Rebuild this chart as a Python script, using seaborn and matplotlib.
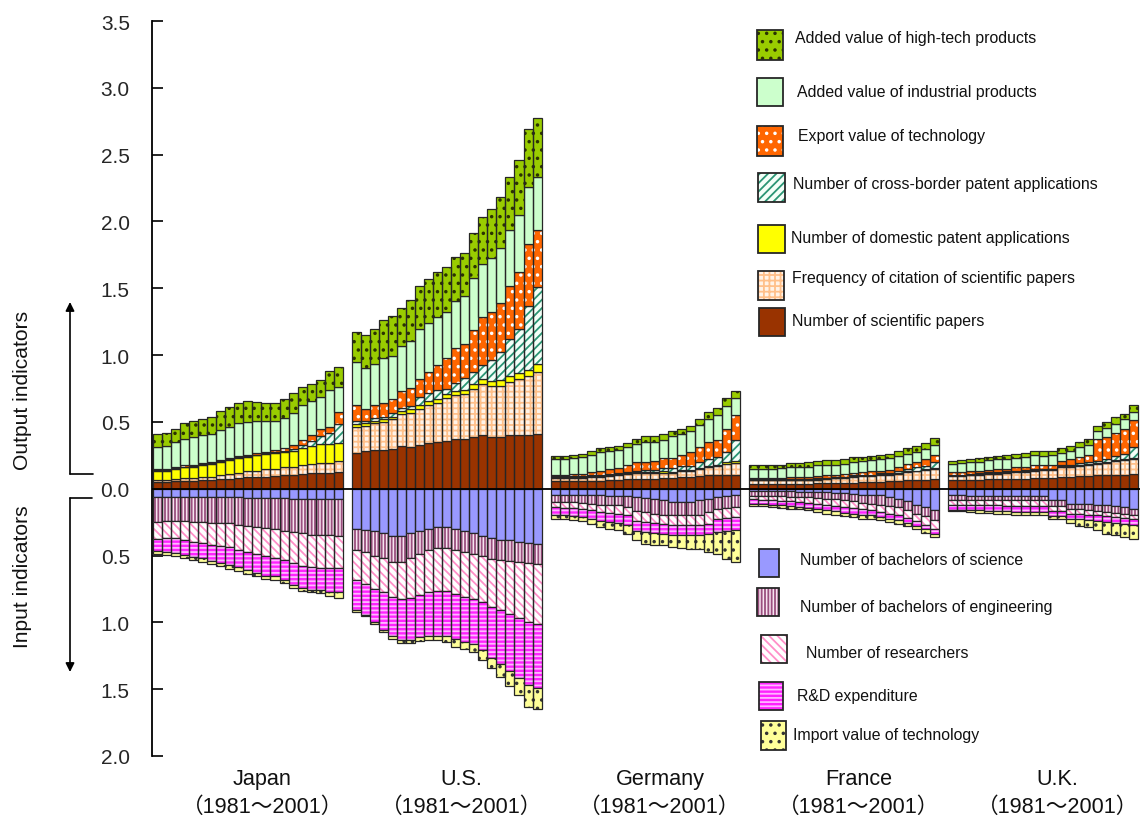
import numpy as np
import pandas as pd
import matplotlib
matplotlib.use("Agg")
import matplotlib.pyplot as plt
import seaborn as sns
from matplotlib import font_manager
from matplotlib.patches import Rectangle
from matplotlib.lines import Line2D

# ==== data (one value per year 1981..2001) ====
countries = ["Japan", "U.S.", "Germany", "France", "U.K."]
period = "（1981～2001）"
n_years = 21

# ---- output indicators (stacked upward, bottom to top) ----
papers = {
    "Japan":   [.05, .05, .055, .06, .06, .065, .065, .07, .075, .08, .085, .085, .09, .095, .10, .105, .11, .115, .12, .12, .125],
    "U.S.":    [.27, .28, .29, .29, .30, .32, .31, .33, .34, .35, .36, .37, .37, .39, .40, .39, .39, .40, .40, .40, .41],
    "Germany": [.055, .055, .055, .055, .06, .06, .065, .065, .07, .075, .075, .075, .08, .08, .085, .085, .095, .10, .105, .105, .105],
    "France":  [.037, .037, .037, .037, .037, .037, .037, .042, .042, .042, .045, .045, .05, .05, .05, .055, .055, .062, .067, .067, .075],
    "U.K.":    [.062, .062, .062, .067, .07, .07, .075, .075, .075, .08, .08, .08, .087, .087, .092, .092, .10, .10, .105, .105, .11],
}
citation = {
    "Japan":   [.015, .015, .02, .02, .02, .025, .025, .03, .035, .04, .045, .05, .055, .055, .06, .06, .065, .07, .075, .075, .08],
    "U.S.":    [.19, .19, .20, .21, .22, .24, .26, .27, .29, .29, .32, .33, .34, .36, .38, .38, .38, .40, .42, .44, .46],
    "Germany": [.025, .025, .025, .025, .025, .03, .03, .035, .04, .04, .04, .04, .04, .04, .045, .05, .055, .06, .065, .08, .09],
    "France":  [.025, .025, .025, .025, .025, .027, .027, .027, .032, .037, .035, .042, .045, .045, .05, .05, .057, .062, .062, .07, .07],
    "U.K.":    [.032, .032, .037, .037, .042, .042, .045, .05, .05, .052, .057, .057, .075, .075, .077, .082, .087, .095, .10, .107, .11],
}
domestic = {
    "Japan":   [.07, .07, .075, .08, .085, .09, .095, .10, .105, .11, .11, .115, .115, .115, .115, .12, .13, .135, .14, .14, .14],
    "U.S.":    [.025, .02, .02, .02, .02, .02, .025, .03, .03, .035, .03, .03, .03, .035, .04, .035, .04, .045, .045, .05, .065],
    "Germany": [.008, .008, .008, .008, .01, .008, .008, .008, .008, .008, .008, .008, .012, .008, .008, .008, .008, .008, .01, .012, .012],
    "France":  [.005, .005, .005, .005, .005, .005, .005, .005, .005, .005, .005, .007, .005, .005, .007, .007, .007, .007, .007, .007, .01],
    "U.K.":    [.005, .005, .005, .005, .005, .005, .005, .005, .005, .005, .007, .007, .007, .007, .01, .01, .007, .007, .007, .007, .007],
}
cross_border = {
    "Japan":   [.005, .005, .005, .005, .005, .005, .005, .005, .005, .005, .005, .005, .005, .01, .01, .015, .02, .035, .06, .08, .14],
    "U.S.":    [.02, .02, .02, .02, .025, .025, .025, .055, .055, .065, .04, .06, .085, .085, .105, .16, .21, .275, .33, .48, .575],
    "Germany": [.005, .005, .005, .007, .005, .005, .005, .012, .01, .012, .017, .02, .025, .03, .032, .03, .042, .055, .057, .075, .16],
    "France":  [.003, .003, .003, .003, .005, .005, .005, .005, .005, .005, .005, .005, .005, .005, .007, .007, .017, .017, .025, .025, .045],
    "U.K.":    [.005, .005, .005, .005, .005, .005, .005, .005, .007, .007, .007, .007, .01, .01, .01, .015, .017, .022, .032, .042, .085],
}
export_tech = {
    "Japan":   [.01, .01, .01, .01, .01, .01, .01, .01, .01, .01, .01, .01, .01, .015, .02, .03, .04, .05, .05, .05, .09],
    "U.S.":    [.125, .09, .10, .10, .105, .125, .135, .135, .155, .185, .225, .26, .255, .32, .36, .36, .37, .395, .425, .46, .425],
    "Germany": [.012, .012, .015, .015, .025, .032, .037, .037, .05, .062, .062, .067, .07, .075, .085, .10, .112, .125, .125, .175, .187],
    "France":  [.01, .01, .01, .012, .015, .012, .017, .015, .02, .015, .022, .02, .02, .025, .022, .022, .025, .037, .037, .055, .055],
    "U.K.":    [.02, .02, .02, .022, .02, .022, .02, .027, .025, .03, .027, .03, .032, .04, .047, .05, .162, .162, .175, .187, .20],
}
industrial = {
    "Japan":   [.16, .17, .185, .195, .21, .205, .21, .225, .23, .245, .245, .245, .235, .22, .225, .24, .265, .255, .245, .275, .185],
    "U.S.":    [.32, .30, .30, .335, .325, .335, .35, .375, .37, .36, .35, .355, .365, .385, .395, .40, .41, .42, .43, .43, .40],
    "Germany": [.12, .12, .122, .125, .125, .137, .137, .132, .132, .137, .15, .142, .137, .162, .157, .162, .162, .175, .187, .175, .125],
    "France":  [.065, .065, .065, .072, .075, .08, .075, .08, .077, .077, .075, .08, .08, .082, .087, .087, .087, .075, .08, .07, .07],
    "U.K.":    [.062, .07, .07, .067, .07, .075, .07, .067, .075, .075, .07, .072, .057, .067, .075, .075, .062, .067, .067, .075, .062],
}
hightech = {
    "Japan":   [.10, .10, .10, .12, .12, .12, .13, .14, .15, .15, .16, .14, .13, .13, .14, .15, .13, .12, .12, .14, .15],
    "U.S.":    [.225, .25, .265, .29, .295, .29, .31, .32, .33, .335, .335, .33, .32, .335, .35, .365, .38, .40, .41, .435, .44],
    "Germany": [.02, .02, .025, .025, .03, .03, .03, .03, .035, .035, .04, .045, .045, .04, .035, .035, .05, .05, .055, .055, .055],
    "France":  [.03, .03, .03, .027, .03, .027, .032, .032, .037, .037, .037, .037, .032, .03, .032, .032, .037, .045, .045, .05, .055],
    "U.K.":    [.025, .022, .025, .025, .025, .025, .03, .032, .032, .032, .037, .032, .035, .032, .042, .045, .037, .045, .05, .037, .05],
}

# ---- input indicators (stacked downward, top to bottom) ----
bach_science = {
    "Japan":   [.065, .065, .065, .065, .065, .065, .065, .065, .065, .065, .07, .07, .07, .07, .07, .075, .075, .075, .075, .075, .075],
    "U.S.":    [.30, .31, .32, .33, .35, .355, .335, .315, .30, .285, .285, .305, .32, .33, .35, .37, .38, .385, .40, .405, .41],
    "Germany": [.05, .05, .05, .05, .05, .05, .055, .055, .055, .062, .07, .075, .087, .10, .10, .10, .087, .075, .062, .055, .05],
    "France":  [.02, .02, .02, .02, .02, .022, .022, .025, .025, .03, .03, .037, .045, .045, .05, .062, .075, .095, .12, .137, .162],
    "U.K.":    [.05, .05, .055, .055, .055, .055, .055, .055, .055, .055, .055, .087, .087, .112, .112, .112, .12, .125, .13, .137, .15],
}
bach_engineering = {
    "Japan":   [.185, .18, .175, .18, .185, .185, .19, .19, .195, .205, .21, .215, .225, .235, .25, .25, .26, .27, .27, .27, .275],
    "U.S.":    [.155, .16, .18, .19, .195, .195, .185, .175, .16, .16, .155, .155, .155, .16, .155, .155, .15, .155, .15, .15, .15],
    "Germany": [.05, .05, .05, .055, .062, .07, .07, .07, .082, .107, .105, .112, .107, .10, .10, .10, .107, .10, .087, .09, .087],
    "France":  [.035, .035, .037, .037, .04, .04, .042, .045, .05, .05, .057, .057, .06, .067, .07, .067, .062, .067, .067, .067, .075],
    "U.K.":    [.032, .032, .032, .032, .032, .032, .032, .032, .032, .032, .032, .042, .042, .042, .042, .05, .05, .05, .05, .05, .045],
}
researchers = {
    "Japan":   [.125, .125, .125, .135, .145, .155, .165, .17, .175, .185, .195, .205, .205, .215, .215, .23, .24, .24, .245, .25, .245],
    "U.S.":    [.23, .245, .25, .255, .265, .275, .295, .305, .315, .32, .325, .33, .335, .335, .345, .36, .38, .40, .42, .44, .455],
    "Germany": [.037, .042, .045, .045, .05, .055, .057, .062, .057, .075, .075, .07, .067, .07, .075, .075, .075, .087, .075, .075, .075],
    "France":  [.025, .027, .03, .032, .035, .037, .04, .042, .045, .05, .05, .05, .05, .05, .055, .057, .062, .057, .057, .065, .062],
    "U.K.":    [.037, .037, .037, .037, .037, .037, .042, .042, .042, .045, .045, .037, .04, .032, .032, .032, .03, .03, .032, .032, .035],
}
rd_expenditure = {
    "Japan":   [.09, .105, .115, .115, .115, .115, .12, .13, .135, .13, .13, .14, .15, .135, .145, .165, .17, .17, .17, .175, .18],
    "U.S.":    [.225, .23, .25, .28, .295, .31, .315, .315, .325, .335, .34, .335, .335, .34, .355, .38, .405, .425, .45, .47, .475],
    "Germany": [.057, .057, .06, .062, .062, .07, .067, .07, .075, .075, .075, .075, .075, .075, .07, .07, .075, .075, .10, .10, .10],
    "France":  [.032, .032, .032, .035, .035, .037, .04, .037, .042, .04, .042, .042, .04, .037, .037, .037, .037, .035, .035, .035, .037],
    "U.K.":    [.037, .037, .037, .037, .04, .042, .04, .045, .045, .042, .042, .037, .035, .037, .042, .042, .045, .045, .042, .042, .04],
}
import_tech = {
    "Japan":   [.025, .02, .02, .025, .02, .025, .025, .025, .03, .03, .035, .025, .025, .025, .025, .02, .02, .02, .02, .03, .04],
    "U.S.":    [.01, .01, .015, .015, .02, .02, .025, .03, .035, .035, .045, .06, .055, .06, .075, .08, .095, .11, .125, .165, .16],
    "Germany": [.03, .03, .032, .032, .037, .042, .055, .055, .067, .067, .087, .092, .087, .092, .10, .105, .11, .137, .162, .205, .237],
    "France":  [.017, .017, .017, .02, .02, .017, .017, .025, .025, .03, .025, .025, .03, .03, .025, .025, .025, .025, .02, .025, .025],
    "U.K.":    [.012, .012, .012, .017, .017, .02, .017, .02, .025, .025, .025, .02, .025, .03, .05, .05, .067, .087, .095, .10, .105],
}

# ==== styles: (data, label, face colour, hatch, hatch colour) ====
output_layers = [
    (papers, "Number of scientific papers", "#993300", None, "#993300"),
    (citation, "Frequency of citation of scientific papers", "#FFF3E8", "+++", "#FFC08A"),
    (domestic, "Number of domestic patent applications", "#FFFF00", None, "#FFFF00"),
    (cross_border, "Number of cross-border patent applications", "#F4FFF8", "////", "#2A9574"),
    (export_tech, "Export value of technology", "#FF6600", "..", "#FFFFFF"),
    (industrial, "Added value of industrial products", "#CCFFCC", None, "#CCFFCC"),
    (hightech, "Added value of high-tech products", "#99CC00", "..", "#2B3300"),
]
input_layers = [
    (bach_science, "Number of bachelors of science", "#9999FF", None, "#9999FF"),
    (bach_engineering, "Number of bachelors of engineering", "#F7E4F0", "|||||", "#9B4F7F"),
    (researchers, "Number of researchers", "#FFFFFF", "\\\\\\\\", "#FF8FC8"),
    (rd_expenditure, "R&D expenditure", "#FF22FF", "----", "#FFB8FF"),
    (import_tech, "Import value of technology", "#FFFF99", "..", "#333333"),
]

# ==== fonts / theme ====
sns.set_style("white")
installed = {f.name for f in font_manager.fontManager.ttflist}
if "Liberation Sans Narrow" in installed:
    base, k, tick_size = "Liberation Sans Narrow", 1.0, 16
else:
    base, k, tick_size = "Liberation Sans", 0.82, 15
plt.rcParams["font.family"] = [base, "Noto Sans CJK JP", "DejaVu Sans"]
plt.rcParams["hatch.linewidth"] = 1.3
plt.rcParams["text.color"] = "#111111"

W, H = 1146, 829
fig = plt.figure(figsize=(W / 100, H / 100), dpi=100)
ax = fig.add_axes([152 / W, 1 - 757 / H, (1140 - 152) / W, (757 - 22) / H])

gap = 22
xpos = np.concatenate([np.arange(n_years) + i * gap for i in range(len(countries))])
edge_col = "#262626"


def draw_stack(layers, sign):
    bottom = np.zeros(len(xpos))
    for vals, label, face, hatch, hcol in layers:
        h = sign * np.concatenate([vals[c] for c in countries])
        df = pd.DataFrame({"x": xpos, "h": h})
        # fill + hatch (hatch takes the edge colour), then the dark outline
        sns.barplot(data=df, x="x", y="h", native_scale=True, width=1.0,
                    color=face, saturation=1, errorbar=None, ax=ax,
                    bottom=bottom, hatch=hatch, edgecolor=hcol, linewidth=0)
        sns.barplot(data=df, x="x", y="h", native_scale=True, width=1.0,
                    color=face, saturation=1, errorbar=None, ax=ax,
                    bottom=bottom, facecolor="none", edgecolor=edge_col, linewidth=0.9)
        bottom = bottom + h


draw_stack(output_layers, 1)
draw_stack(input_layers, -1)

ax.axhline(0, color="black", lw=1.3, zorder=6)
ax.set_xlim(-0.61, 108.72)
ax.set_ylim(-2.0, 3.5)
yt = np.arange(-2.0, 3.51, 0.5)
ax.set_yticks(yt)
ax.set_yticklabels([f"{abs(t):.1f}" for t in yt])
ax.tick_params(axis="y", direction="in", length=8, width=1.2, color="black",
               pad=16, labelsize=tick_size, left=True)
ax.tick_params(axis="x", bottom=False, labelbottom=False)
for s in ["top", "right", "bottom"]:
    ax.spines[s].set_visible(False)
ax.spines["left"].set_color("black")
ax.spines["left"].set_linewidth(1.3)
ax.set_xlabel("")
ax.set_ylabel("")

# country labels
for i, c in enumerate(countries):
    xc = i * gap + (n_years - 1) / 2 + 1.6
    ax.text(xc, -0.031, c, transform=ax.get_xaxis_transform(), ha="center",
            va="center", fontsize=19 * k)
    ax.text(xc, -0.069, period, transform=ax.get_xaxis_transform(), ha="center",
            va="center", fontsize=19 * k)


# ==== hand-placed legends ====
def swatch(px, py, w, h, face, hatch, hcol):
    x0, y0 = px / W, 1 - (py + h) / H
    fig.add_artist(Rectangle((x0, y0), w / W, h / H, transform=fig.transFigure,
                             facecolor=face, hatch=hatch, edgecolor=hcol, lw=0))
    fig.add_artist(Rectangle((x0, y0), w / W, h / H, transform=fig.transFigure,
                             facecolor="none", edgecolor=edge_col, lw=1.3))


out_sw = [(759, 309, 26, 28, 792, 322), (758, 272, 26, 29, 792, 279),
          (758, 226, 27, 28, 791, 239), (758, 174, 27, 29, 793, 184),
          (757, 127, 26, 30, 798, 137), (757, 79, 26, 28, 797, 92),
          (757, 31, 26, 30, 795, 38)]
for (vals, label, face, hatch, hcol), (px, py, w, h, tx, ty) in zip(output_layers, out_sw):
    swatch(px, py, w, h, face, hatch, hcol)
    fig.text(tx / W, 1 - ty / H, label, ha="left", va="center", fontsize=14 * k)

in_sw = [(759, 550, 20, 28, 800, 561), (757, 589, 22, 28, 800, 608),
         (761, 636, 26, 28, 806, 653), (759, 683, 24, 28, 797, 697),
         (761, 722, 25, 29, 793, 736)]
for (vals, label, face, hatch, hcol), (px, py, w, h, tx, ty) in zip(input_layers, in_sw):
    swatch(px, py, w, h, face, hatch, hcol)
    fig.text(tx / W, 1 - ty / H, label, ha="left", va="center", fontsize=14 * k)

# ==== output / input brackets on the left ====
arr = dict(arrowstyle="-|>", color="black", lw=1.2, mutation_scale=13, shrinkA=0, shrinkB=0)
ax.annotate("", xy=(70, H - 303), xytext=(70, H - 475), xycoords="figure pixels",
            textcoords="figure pixels", arrowprops=arr, annotation_clip=False)
ax.annotate("", xy=(70, H - 673), xytext=(70, H - 499), xycoords="figure pixels",
            textcoords="figure pixels", arrowprops=arr, annotation_clip=False)
fig.add_artist(Line2D([70 / W, 93 / W], [1 - 475 / H] * 2, transform=fig.transFigure, color="black", lw=1.2))
fig.add_artist(Line2D([70 / W, 92 / W], [1 - 499 / H] * 2, transform=fig.transFigure, color="black", lw=1.2))
fig.text(23 / W, 1 - 390 / H, "Output indicators", rotation=90, ha="center", va="center", fontsize=18.5 * k)
fig.text(23 / W, 1 - 577 / H, "Input indicators", rotation=90, ha="center", va="center", fontsize=18.5 * k)

fig.savefig("out.png", dpi=100, facecolor="white")
